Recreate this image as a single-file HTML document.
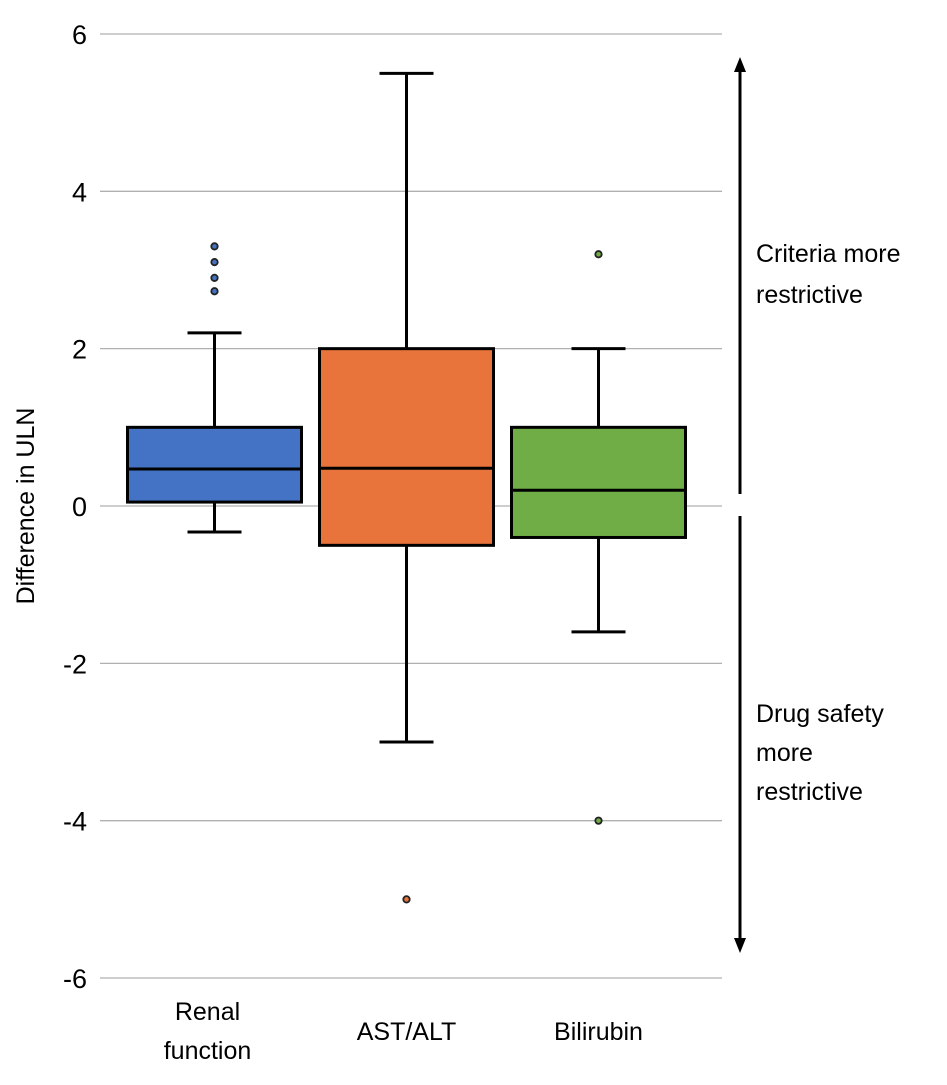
<!DOCTYPE html>
<html><head><meta charset="utf-8"><style>
body{margin:0;background:#fff;}
svg text{font-family:"Liberation Sans",sans-serif;fill:#000;}
</style></head><body>
<svg id="chart" width="947" height="1080" xmlns="http://www.w3.org/2000/svg">
<g id="grid"></g><g id="boxes"></g><g id="labels"></g>
<text transform="translate(34,506) rotate(-90)" text-anchor="middle" font-size="25">Difference in ULN</text>
<g>
<line x1="740" y1="494" x2="740" y2="68" stroke="#000" stroke-width="3"/>
<polygon points="740,57 734,72 746,72" fill="#000"/></g>
<g>
<line x1="740" y1="516" x2="740" y2="942" stroke="#000" stroke-width="3"/>
<polygon points="740,953 734,938 746,938" fill="#000"/></g>
<text font-size="25"><tspan x="756" y="262">Criteria  more</tspan><tspan x="756" y="303">restrictive</tspan></text>
<text font-size="25"><tspan x="756" y="722">Drug safety</tspan><tspan x="756" y="761">more</tspan><tspan x="756" y="800">restrictive</tspan></text>
</svg>
<script>
const categories=["Renal function","AST/ALT","Bilirubin"];
const q1=[0.05,-0.5,-0.4];
const q3=[1.0,2.0,1.0];
const medians=[0.47,0.48,0.2];
const whiskLow=[-0.33,-3.0,-1.6];
const whiskHigh=[2.2,5.5,2.0];
const outliers=[[3.3,3.1,2.9,2.73],[-5],[3.2,-4]];
const yTicks=[6,4,2,0,-2,-4,-6];
const colors=["#4472C4","#E8743B","#70AD47"];
const NS="http://www.w3.org/2000/svg";
const y=v=>506-v*78.67;
const xc=i=>214.5+i*192;
const bw=174;
function mk(t,a,p){const e=document.createElementNS(NS,t);for(const k in a)e.setAttribute(k,a[k]);p.appendChild(e);return e;}
const grid=document.getElementById('grid');
yTicks.forEach(v=>{
 const l=mk('line',{x1:100,x2:722,y1:y(v),y2:y(v),stroke:'#b0b0b0','stroke-width':1.3},grid);
 
 
 const t=mk('text',{x:87,y:y(v)+10,'text-anchor':'end','font-size':27},grid);
 t.textContent=v;
 
 
});
const boxes=document.getElementById('boxes');
categories.forEach((c,i)=>{
 const g=mk('g',{},boxes);
 
 
 const x=xc(i),s={stroke:'#000','stroke-width':3};
 mk('line',Object.assign({x1:x,x2:x,y1:y(whiskHigh[i]),y2:y(q3[i])},s),g);
 mk('line',Object.assign({x1:x,x2:x,y1:y(q1[i]),y2:y(whiskLow[i])},s),g);
 mk('line',Object.assign({x1:x-27,x2:x+27,y1:y(whiskHigh[i]),y2:y(whiskHigh[i])},s),g);
 mk('line',Object.assign({x1:x-27,x2:x+27,y1:y(whiskLow[i]),y2:y(whiskLow[i])},s),g);
 mk('rect',Object.assign({x:x-bw/2,y:y(q3[i]),width:bw,height:y(q1[i])-y(q3[i]),fill:colors[i]},s),g);
 mk('line',Object.assign({x1:x-bw/2,x2:x+bw/2,y1:y(medians[i]),y2:y(medians[i])},s),g);
 outliers[i].forEach(o=>{
  const d=mk('circle',{cx:x,cy:y(o),r:3.2,fill:colors[i],stroke:'#222','stroke-width':1.8},g);
  
  
 });
 const t=mk('text',{'text-anchor':'middle','font-size':25},document.getElementById('labels'));
 
 
 const w=c==="Renal function"?["Renal","function"]:[c];
 w.forEach((s2,k)=>{const sp=mk('tspan',{x:x+(i==0?-7:0),y:w.length>1?1020+k*39:1040},t);sp.textContent=s2;});
});
</script>
</body></html>
